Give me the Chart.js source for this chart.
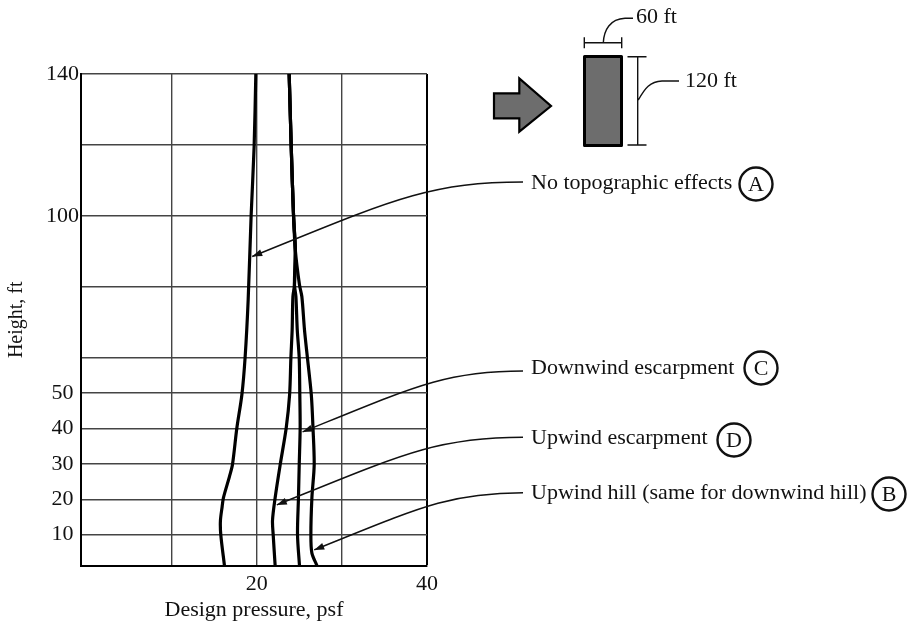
<!DOCTYPE html>
<html><head><meta charset="utf-8">
<script src="https://cdn.jsdelivr.net/npm/chart.js@4.4.0/dist/chart.umd.min.js"></script>
<style>html,body{margin:0;padding:0;background:#fff;}canvas{display:block;}</style>
</head><body>
<canvas id="c" width="907" height="627"></canvas>
<script>
// ---- axis ticks ----
const xTickValues = [10, 20, 30, 40];
const xTickLabels = ['', '20', '', '40'];
const yTickValues = [10, 20, 30, 40, 50, 60, 80, 100, 120, 140];
const yTickLabels = ['10', '20', '30', '40', '50', '', '', '100', '', '140'];

// ---- series (design pressure psf vs height ft) ----
const seriesNames = ['No topographic effects', 'Upwind hill (same for downwind hill)', 'Downwind escarpment', 'Upwind escarpment'];
const seriesLetters = ['A', 'B', 'C', 'D'];

const heightA = [1.3, 10, 14, 17.9, 20.4, 26.4, 29.7, 40.1, 49.5, 60, 76.3, 100.2, 119.5, 140];
const pressureA = [16.19, 15.76, 15.72, 15.92, 16.07, 16.78, 17.13, 17.65, 18.24, 18.62, 18.98, 19.33, 19.68, 19.88];

const heightB = [1.3, 4.8, 10, 20.4, 29.7, 40.1, 49.5, 59.8, 67.8, 77.2, 80.5, 90.4, 100.2, 119.5, 140];
const pressureB = [27.06, 26.47, 26.35, 26.47, 26.74, 26.6, 26.4, 25.95, 25.6, 25.29, 25.01, 24.52, 24.31, 24.04, 23.8];

const heightC = [1.3, 10, 20.4, 29.7, 40.1, 49.5, 59.8, 67.8, 77.2, 80.5, 90.4, 100.2, 119.5, 140];
const pressureC = [25.01, 24.78, 24.89, 24.98, 25.09, 25.05, 24.98, 24.75, 24.59, 24.42, 24.52, 24.31, 24.04, 23.8];

const heightD = [1.3, 10, 14, 20.4, 29.7, 40.1, 49.5, 59.8, 67.8, 77.2, 80.5, 90.4, 100.2, 119.5, 140];
const pressureD = [22.15, 21.92, 21.84, 22.15, 22.74, 23.45, 23.85, 24.0, 24.15, 24.24, 24.42, 24.52, 24.31, 24.04, 23.8];

// heights (ft) where each leader arrow touches its curve
const arrowHeights = [88.5, 5.7, 39, 18.4];

// building dimensions labels
const dimLabels = ['60 ft', '120 ft'];

const curves = [
  [heightA, pressureA], [heightB, pressureB], [heightC, pressureC], [heightD, pressureD]
];
const toPts = (h, p) => h.map((v, i) => ({x: p[i], y: v}));

const FONT = "'Liberation Serif', 'Times New Roman', serif";
Chart.defaults.font.family = FONT;
Chart.defaults.color = '#111';

function pressureAt(h, p, y) {
  for (let i = 0; i < h.length - 1; i++) {
    if (y >= h[i] && y <= h[i + 1]) {
      const t = (y - h[i]) / (h[i + 1] - h[i]);
      return p[i] + t * (p[i + 1] - p[i]);
    }
  }
  return p[p.length - 1];
}

// layout of annotation labels (pixels)
const labelLayout = [
  {textY: 183, startY: 182, circle: [756, 184]},
  {textY: 493, startY: 492.7, circle: [889, 494]},
  {textY: 368, startY: 371, circle: [761, 368]},
  {textY: 438, startY: 437.3, circle: [734, 440]}
];

const annot = {
  id: 'annot',
  afterDraw(chart) {
    const ctx = chart.ctx, xs = chart.scales.x, ys = chart.scales.y;
    ctx.save();
    ctx.fillStyle = '#111';
    ctx.strokeStyle = '#111';
    ctx.font = '22px ' + FONT;
    ctx.textBaseline = 'middle';
    ctx.textAlign = 'left';
    labelLayout.forEach((L, i) => {
      const [h, p] = curves[i];
      const hy = arrowHeights[i];
      const T = {x: xs.getPixelForValue(pressureAt(h, p, hy)) + 2.5, y: ys.getPixelForValue(hy)};
      const S = {x: 523, y: L.startY};
      const dx = S.x - T.x, dy = T.y - S.y;
      const c1 = {x: S.x - 0.35 * dx, y: S.y};
      const c2 = {x: S.x - 0.49 * dx, y: S.y + 0.25 * dy};
      ctx.lineWidth = 1.5;
      ctx.beginPath();
      ctx.moveTo(S.x, S.y);
      ctx.bezierCurveTo(c1.x, c1.y, c2.x, c2.y, T.x, T.y);
      ctx.stroke();
      const ang = Math.atan2(T.y - c2.y, T.x - c2.x);
      const len = 10, w = 3.5;
      ctx.beginPath();
      ctx.moveTo(T.x, T.y);
      ctx.lineTo(T.x - len * Math.cos(ang) + w * Math.sin(ang), T.y - len * Math.sin(ang) - w * Math.cos(ang));
      ctx.lineTo(T.x - len * Math.cos(ang) - w * Math.sin(ang), T.y - len * Math.sin(ang) + w * Math.cos(ang));
      ctx.closePath();
      ctx.fill();
      ctx.textAlign = 'left';
      ctx.fillText(seriesNames[i], 531, L.textY);
      ctx.lineWidth = 2.4;
      ctx.beginPath();
      ctx.arc(L.circle[0], L.circle[1], 16.5, 0, Math.PI * 2);
      ctx.stroke();
      ctx.textAlign = 'center';
      ctx.fillText(seriesLetters[i], L.circle[0], L.circle[1] + 1);
    });

    // wind arrow
    ctx.fillStyle = '#6d6d6d';
    ctx.strokeStyle = '#000';
    ctx.lineWidth = 2.2;
    ctx.lineJoin = 'miter';
    ctx.beginPath();
    ctx.moveTo(494, 93.3); ctx.lineTo(519.3, 93.3); ctx.lineTo(519.3, 78.3);
    ctx.lineTo(551, 106); ctx.lineTo(519.3, 131.7); ctx.lineTo(519.3, 118.3);
    ctx.lineTo(494, 118.3); ctx.closePath();
    ctx.fill(); ctx.stroke();
    // building
    ctx.lineWidth = 3;
    ctx.lineJoin = 'round';
    ctx.beginPath();
    ctx.rect(584.5, 56.5, 37, 89);
    ctx.fill(); ctx.stroke();

    // dimension lines
    ctx.strokeStyle = '#111';
    ctx.lineWidth = 1.4;
    ctx.lineJoin = 'miter';
    ctx.beginPath();
    ctx.moveTo(637.7, 56.7); ctx.lineTo(637.7, 145);
    ctx.moveTo(627.5, 56.7); ctx.lineTo(646.5, 56.7);
    ctx.moveTo(627.5, 145); ctx.lineTo(646.5, 145);
    ctx.moveTo(638.3, 100); ctx.bezierCurveTo(645, 88, 650, 81.5, 662, 81); ctx.lineTo(679, 81);
    ctx.moveTo(584.3, 42.7); ctx.lineTo(621.7, 42.7);
    ctx.moveTo(584.3, 37.3); ctx.lineTo(584.3, 48.3);
    ctx.moveTo(621.7, 37.3); ctx.lineTo(621.7, 48.3);
    ctx.moveTo(603.3, 42.7); ctx.bezierCurveTo(604, 30, 610, 19, 625, 18.3); ctx.lineTo(633, 18.3);
    ctx.stroke();
    ctx.fillStyle = '#111';
    ctx.textAlign = 'left';
    ctx.fillText(dimLabels[0], 636, 17.5);
    ctx.fillText(dimLabels[1], 685, 81);
    ctx.restore();
  }
};

new Chart(document.getElementById('c'), {
  type: 'scatter',
  data: {
    datasets: curves.map((c, i) => ({
      label: seriesNames[i],
      data: toPts(c[0], c[1]),
      showLine: true,
      borderColor: '#000',
      borderWidth: 3.2,
      pointRadius: 0,
      tension: 0.3,
      fill: false
    }))
  },
  options: {
    responsive: false,
    devicePixelRatio: 1,
    animation: false,
    events: [],
    layout: {padding: {top: 74, right: 480, left: 0, bottom: 0}},
    plugins: {legend: {display: false}, tooltip: {enabled: false}},
    scales: {
      x: {
        type: 'linear', min: -0.67, max: 40,
        afterBuildTicks: s => { s.ticks = xTickValues.map(v => ({value: v})); },
        afterFit: s => { s.height = 61.5; },
        ticks: {
          autoSkip: false, maxRotation: 0, padding: 6,
          font: {size: 22},
          callback: v => xTickLabels[xTickValues.indexOf(v)]
        },
        grid: {
          drawTicks: false,
          color: c => (c.tick && c.tick.value === 40) ? '#000' : '#444',
          lineWidth: c => (c.tick && c.tick.value === 40) ? 2 : 1.4
        },
        border: {display: true, color: '#000', width: 2},
        title: {display: true, text: 'Design pressure, psf', font: {size: 22}, padding: {top: 0, bottom: 4}}
      },
      y: {
        type: 'linear', min: 1.3, max: 140,
        afterBuildTicks: s => { s.ticks = yTickValues.map(v => ({value: v})); },
        afterFit: s => { s.width = 81; },
        ticks: {
          autoSkip: false, padding: 2, crossAlign: 'center',
          font: {size: 22},
          callback: v => yTickLabels[yTickValues.indexOf(v)]
        },
        grid: {drawTicks: false, color: '#444', lineWidth: 1.4},
        border: {display: true, color: '#000', width: 2},
        title: {display: true, text: 'Height, ft', font: {size: 20, lineHeight: 1.7}, padding: 0}
      }
    }
  },
  plugins: [annot]
});
</script>
</body></html>
